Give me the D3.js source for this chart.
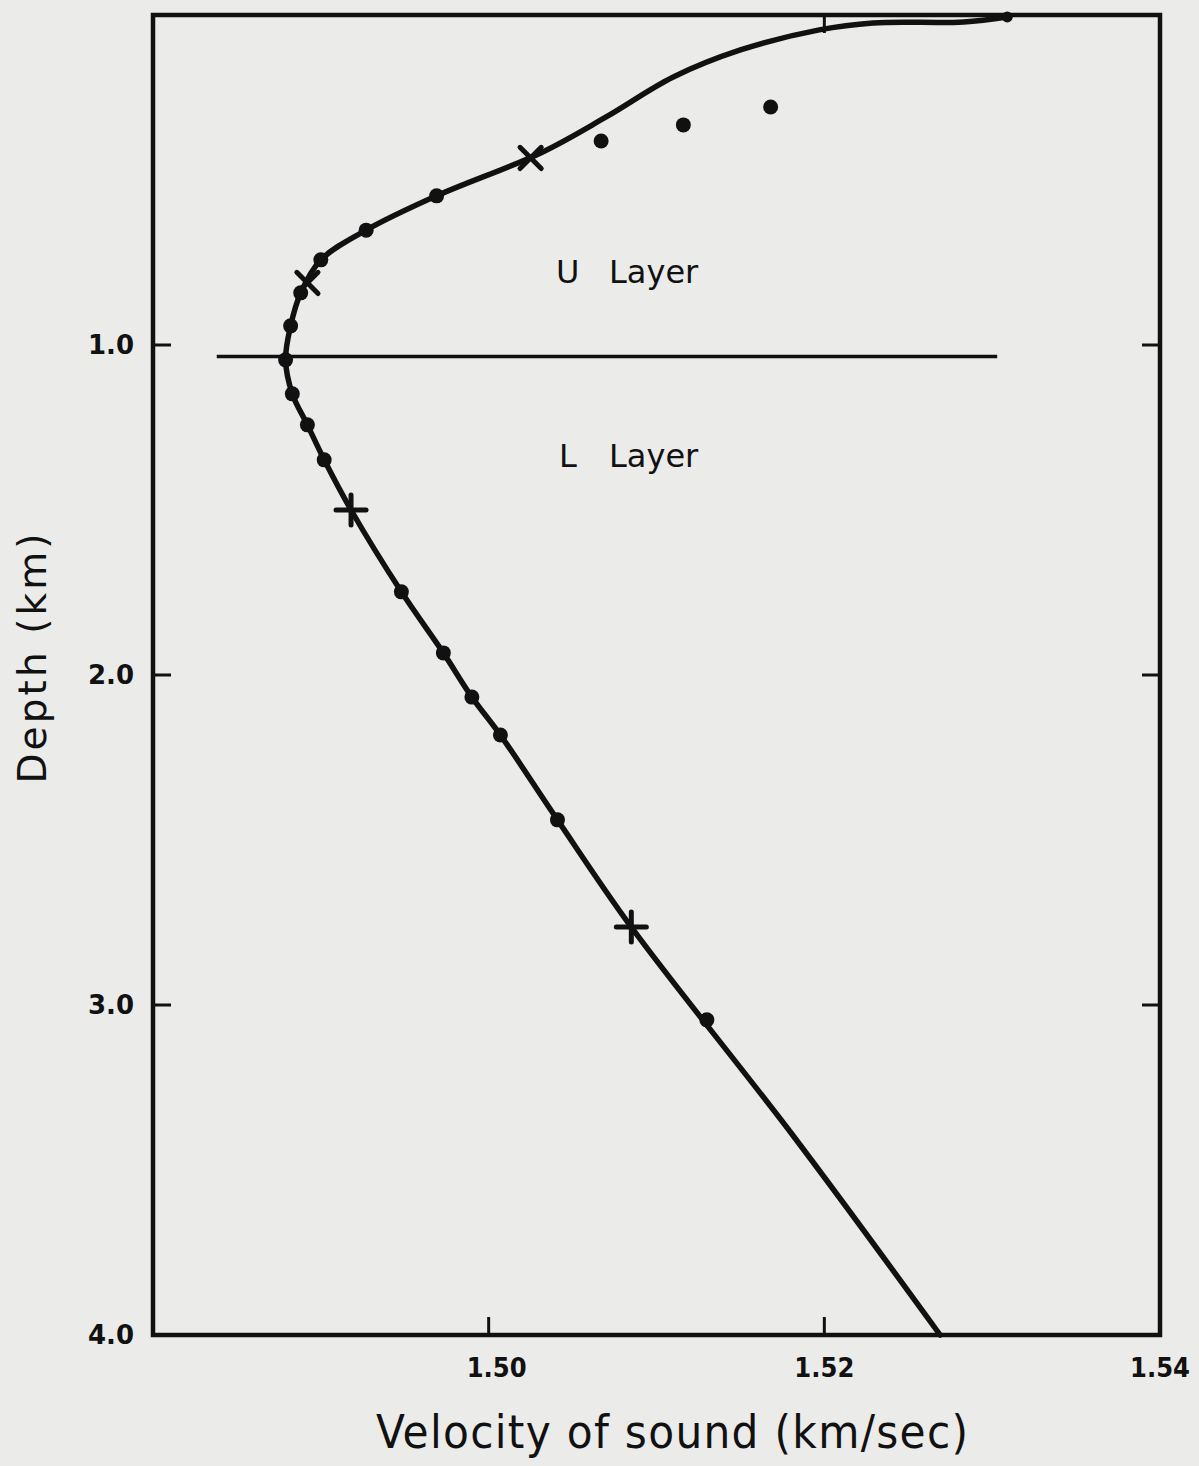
<!DOCTYPE html>
<html>
<head>
<meta charset="utf-8">
<script src="https://cdn.jsdelivr.net/npm/d3@7"></script>
<style>
  html, body { margin: 0; padding: 0; background: #ebebea; }
  svg { display: block; }
</style>
</head>
<body>
<div id="chart"></div>
<script>
// sound velocity profile
const curveDepth    = [0.006, 0.021, 0.024, 0.045, 0.106, 0.188, 0.309, 0.418, 0.548, 0.652, 0.742, 0.842, 0.942, 1.045, 1.148, 1.242, 1.348, 1.5, 1.748, 1.933, 2.067, 2.182, 2.439, 2.764, 3.4, 4.0];
const curveVelocity = [1.5309, 1.5283, 1.5229, 1.5197, 1.5150, 1.5110, 1.5070, 1.5031, 1.4969, 1.4927, 1.4900, 1.4888, 1.4882, 1.4879, 1.4883, 1.4892, 1.4902, 1.4918, 1.4948, 1.4973, 1.4990, 1.5007, 1.5041, 1.5085, 1.5182, 1.5269];

// measured points (dots)
const dotDepth    = [0.548, 0.652, 0.742, 0.842, 0.942, 1.045, 1.148, 1.242, 1.348, 1.748, 1.933, 2.067, 2.182, 2.439, 3.045, 0.382, 0.333, 0.279];
const dotVelocity = [1.4969, 1.4927, 1.4900, 1.4888, 1.4882, 1.4879, 1.4883, 1.4892, 1.4902, 1.4948, 1.4973, 1.4990, 1.5007, 1.5041, 1.5130, 1.5067, 1.5116, 1.5168];

// cross markers
const crossDepth    = [0.433, 0.812, 1.5, 2.764];
const crossVelocity = [1.5025, 1.4892, 1.4918, 1.5085];
const crossKind     = ["x", "x", "+", "+"];

const boundaryDepth = 1.035;
const boundaryFrom = 1.4838, boundaryTo = 1.5303;

const xTicks = [1.50, 1.52, 1.54];
const yTicks = [1.0, 2.0, 3.0, 4.0];

const width = 1199, height = 1466;
const margin = {left: 153, right: 39, top: 15, bottom: 131};

const svg = d3.select("#chart").append("svg")
    .attr("width", width)
    .attr("height", height);

const x = d3.scaleLinear().domain([1.48, 1.54]).range([margin.left, width - margin.right]);
const y = d3.scaleLinear().domain([0, 4]).range([margin.top, height - margin.bottom]);

// frame
svg.append("rect")
    .attr("x", x(1.48))
    .attr("y", y(0))
    .attr("width", x(1.54) - x(1.48))
    .attr("height", y(4) - y(0))
    .attr("fill", "none")
    .attr("stroke", "#111")
    .attr("stroke-width", 4.5);

// inward ticks
const tickLen = 18;
xTicks.filter(t => t < 1.54).forEach(t => {
    svg.append("line")
        .attr("x1", x(t)).attr("x2", x(t))
        .attr("y1", y(4)).attr("y2", y(4) - tickLen)
        .attr("stroke", "#111").attr("stroke-width", 3);
});
svg.append("line")
    .attr("x1", x(1.52)).attr("x2", x(1.52))
    .attr("y1", y(0)).attr("y2", y(0) + tickLen)
    .attr("stroke", "#111").attr("stroke-width", 3);
yTicks.filter(t => t < 4).forEach(t => {
    svg.append("line")
        .attr("x1", x(1.48)).attr("x2", x(1.48) + tickLen)
        .attr("y1", y(t)).attr("y2", y(t))
        .attr("stroke", "#111").attr("stroke-width", 3);
    svg.append("line")
        .attr("x1", x(1.54)).attr("x2", x(1.54) - tickLen)
        .attr("y1", y(t)).attr("y2", y(t))
        .attr("stroke", "#111").attr("stroke-width", 3);
});

// tick labels
const labelFont = "'DejaVu Sans', sans-serif";
const narrowFont = "'DejaVu Sans Condensed', 'Liberation Sans Narrow', sans-serif";
svg.selectAll(".xlab")
    .data(xTicks)
    .join("text")
    .attr("x", d => x(d) + (d < 1.51 ? 8 : 0))
    .attr("y", y(4) + 42)
    .attr("text-anchor", "middle")
    .attr("font-family", narrowFont)
    .attr("font-weight", "bold")
    .attr("font-size", 27)
    .attr("fill", "#111")
    .text(d => d.toFixed(2));

svg.selectAll(".ylab")
    .data(yTicks)
    .join("text")
    .attr("x", x(1.48) - 19)
    .attr("y", d => y(d))
    .attr("dy", "0.35em")
    .attr("text-anchor", "end")
    .attr("font-family", labelFont)
    .attr("font-weight", "bold")
    .attr("font-size", 26)
    .attr("fill", "#111")
    .text(d => d.toFixed(1));

// axis titles
svg.append("text")
    .attr("x", 672)
    .attr("y", 1448)
    .attr("text-anchor", "middle")
    .attr("font-family", narrowFont)
    .attr("font-size", 47)
    .attr("textLength", 592)
    .attr("lengthAdjust", "spacing")
    .attr("fill", "#111")
    .text("Velocity of sound (km/sec)");

svg.append("text")
    .attr("transform", `translate(46, ${y(1.95)}) rotate(-90)`)
    .attr("text-anchor", "middle")
    .attr("font-family", labelFont)
    .attr("font-size", 39)
    .attr("textLength", 250)
    .attr("lengthAdjust", "spacing")
    .attr("fill", "#111")
    .text("Depth (km)");

// layer boundary
svg.append("line")
    .attr("x1", x(boundaryFrom)).attr("x2", x(boundaryTo))
    .attr("y1", y(boundaryDepth)).attr("y2", y(boundaryDepth))
    .attr("stroke", "#111").attr("stroke-width", 3.5);

const layerLabels = [["U", 556, 283], ["L", 559, 467]];
layerLabels.forEach(([letter, lx, ly]) => {
    svg.append("text")
        .attr("x", lx).attr("y", ly)
        .attr("font-family", labelFont)
        .attr("font-size", 32)
        .attr("fill", "#111")
        .text(letter);
    svg.append("text")
        .attr("x", 609).attr("y", ly)
        .attr("font-family", labelFont)
        .attr("font-size", 32)
        .attr("fill", "#111")
        .text("Layer");
});

// profile curve
const profile = curveDepth.map((d, i) => ({d, v: curveVelocity[i]}));
const line = d3.line()
    .x(p => x(p.v))
    .y(p => y(p.d))
    .curve(d3.curveCatmullRom.alpha(0.5));

svg.append("path")
    .datum(profile)
    .attr("d", line)
    .attr("fill", "none")
    .attr("stroke", "#111")
    .attr("stroke-width", 5.5)
    .attr("stroke-linecap", "round");

// end blob at the surface
svg.append("circle")
    .attr("cx", x(curveVelocity[0]))
    .attr("cy", y(curveDepth[0]))
    .attr("r", 5.5)
    .attr("fill", "#111");

// dots
const dots = dotDepth.map((d, i) => ({d, v: dotVelocity[i]}));
svg.selectAll(".dot")
    .data(dots)
    .join("circle")
    .attr("class", "dot")
    .attr("cx", p => x(p.v))
    .attr("cy", p => y(p.d))
    .attr("r", 7.5)
    .attr("fill", "#111");

// crosses
const crosses = crossDepth.map((d, i) => ({d, v: crossVelocity[i], k: crossKind[i]}));
const cs = 15;
crosses.forEach(c => {
    const g = svg.append("g")
        .attr("transform", `translate(${x(c.v)},${y(c.d)}) rotate(${c.k === "x" ? 45 : 0})`);
    g.append("line").attr("x1", -cs).attr("x2", cs).attr("y1", 0).attr("y2", 0)
        .attr("stroke", "#111").attr("stroke-width", 5).attr("stroke-linecap", "round");
    g.append("line").attr("x1", 0).attr("x2", 0).attr("y1", -cs).attr("y2", cs)
        .attr("stroke", "#111").attr("stroke-width", 5).attr("stroke-linecap", "round");
});
</script>
</body>
</html>
